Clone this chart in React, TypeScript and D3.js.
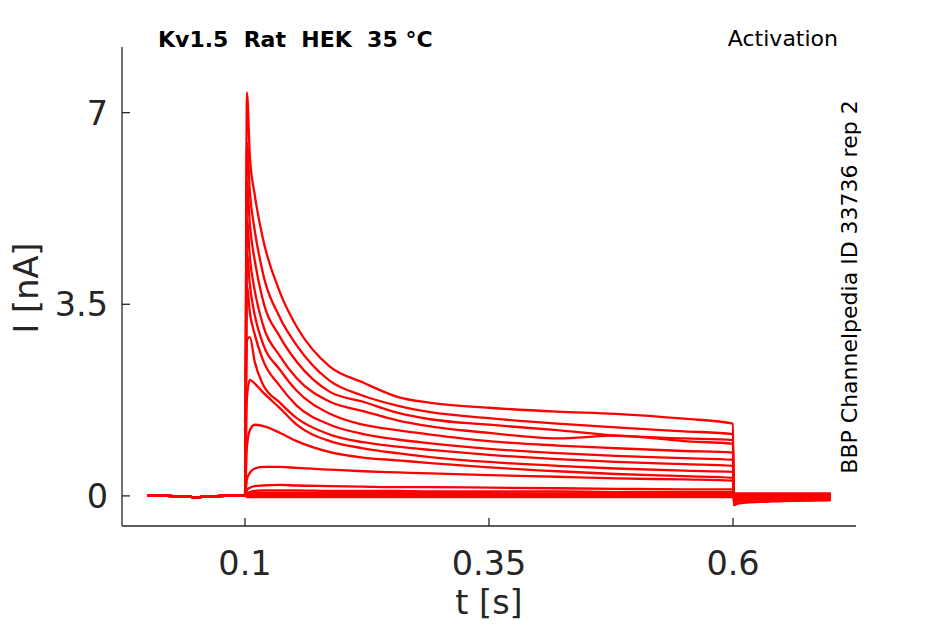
import { useEffect, useRef } from 'react';
import * as d3 from 'd3';

// sample times (s)
const preTimes = [0, 0.02, 0.04, 0.05, 0.06, 0.08, 0.095];
const preValues = [0.01, 0.0, -0.01, -0.03, -0.01, 0.0, 0.0];
const stepTimes = [0.1, 0.102, 0.105, 0.11, 0.118, 0.136, 0.153, 0.187, 0.221, 0.256, 0.29, 0.35, 0.42, 0.48, 0.55, 0.6];
const tailTimes = [0.6005, 0.605, 0.64, 0.7];

// current during the step (nA), one row per sweep
const stepValues: number[][] = [
  [0, 7.37, 6.2, 5.5, 4.73, 3.71, 3.09, 2.36, 2.07, 1.81, 1.7, 1.61, 1.54, 1.5, 1.41, 1.32],
  [0, 6.45, 5.55, 4.85, 4.1, 3.25, 2.75, 2.1, 1.83, 1.65, 1.53, 1.42, 1.32, 1.25, 1.18, 1.13],
  [0, 5.75, 4.95, 4.3, 3.6, 2.9, 2.45, 1.9, 1.72, 1.52, 1.4, 1.3, 1.2, 1.1, 1.05, 1.02],
  [0, 5.05, 4.35, 3.75, 3.15, 2.55, 2.15, 1.72, 1.55, 1.38, 1.27, 1.15, 1.05, 1.1, 1.0, 0.95],
  [0, 4.45, 3.85, 3.3, 2.8, 2.3, 1.92, 1.5, 1.3, 1.2, 1.12, 1.0, 0.92, 0.87, 0.82, 0.79],
  [0, 3.85, 3.35, 2.95, 2.5, 2.0, 1.65, 1.3, 1.13, 1.03, 0.96, 0.86, 0.78, 0.73, 0.69, 0.66],
  [0, 2.85, 2.9, 2.45, 2.05, 1.7, 1.42, 1.12, 0.98, 0.9, 0.84, 0.75, 0.67, 0.62, 0.58, 0.55],
  [0, 1.8, 2.12, 2.05, 1.9, 1.6, 1.3, 1.0, 0.87, 0.78, 0.71, 0.62, 0.55, 0.5, 0.46, 0.44],
  [0, 0.9, 1.2, 1.3, 1.28, 1.15, 1.0, 0.8, 0.7, 0.65, 0.6, 0.52, 0.45, 0.4, 0.36, 0.33],
  [0, 0.3, 0.42, 0.5, 0.53, 0.53, 0.51, 0.48, 0.45, 0.43, 0.41, 0.38, 0.35, 0.32, 0.3, 0.28],
  [0, 0.1, 0.15, 0.18, 0.19, 0.2, 0.19, 0.18, 0.17, 0.16, 0.16, 0.15, 0.14, 0.13, 0.12, 0.12],
  [0, 0.05, 0.07, 0.09, 0.1, 0.1, 0.1, 0.09, 0.09, 0.09, 0.08, 0.08, 0.08, 0.07, 0.07, 0.07],
  [0, 0.03, 0.05, 0.06, 0.06, 0.06, 0.06, 0.05, 0.05, 0.05, 0.05, 0.05, 0.04, 0.04, 0.04, 0.04],
  [0, 0.02, 0.03, 0.03, 0.03, 0.03, 0.03, 0.03, 0.03, 0.03, 0.03, 0.03, 0.03, 0.02, 0.02, 0.02],
  [0, 0.01, 0.01, 0.01, 0.01, 0.01, 0.01, 0.01, 0.01, 0.01, 0.01, 0.01, 0.01, 0.01, 0.01, 0.01],
  [0, 0.0, 0.0, 0.0, -0.01, 0.0, -0.01, 0.0, -0.01, 0.0, -0.01, 0.0, -0.01, 0.0, -0.01, 0.0],
  [0, -0.02, -0.02, -0.02, -0.02, -0.02, -0.02, -0.02, -0.02, -0.02, -0.02, -0.02, -0.02, -0.02, -0.02, -0.02],
];

// current after the step (nA)
const tailValues: number[][] = [
  [-0.17, -0.14, -0.1, -0.08],
  [-0.14, -0.12, -0.09, -0.07],
  [-0.1, -0.08, -0.06, -0.05],
  [-0.07, -0.06, -0.05, -0.04],
  [-0.05, -0.04, -0.03, -0.02],
  [-0.03, -0.02, -0.02, -0.01],
  [-0.02, -0.01, -0.01, 0.0],
  [-0.01, 0.0, 0.0, 0.0],
  [0.0, 0.0, 0.01, 0.01],
  [0.01, 0.01, 0.01, 0.01],
  [0.02, 0.02, 0.02, 0.02],
  [0.02, 0.02, 0.02, 0.02],
  [0.03, 0.03, 0.03, 0.03],
  [0.03, 0.03, 0.03, 0.03],
  [0.04, 0.04, 0.04, 0.04],
  [0.04, 0.04, 0.04, 0.04],
  [0.0, 0.0, 0.0, 0.0],
];

const xTicks = [0.1, 0.35, 0.6];
const yTicks = [0, 3.5, 7];

export default function App() {
  const ref = useRef<SVGSVGElement>(null);
  const width = 945;
  const height = 624;

  useEffect(() => {
    if (!ref.current) return;
    const svg = d3.select(ref.current);
    svg.selectAll('*').remove();

    const left = 122, right = 856, top = 47, bottom = 526;
    const x = d3.scaleLinear().domain([-0.026, 0.726]).range([left, right]);
    const y = d3.scaleLinear().domain([-0.55, 8.2]).range([bottom, top]);
    const ink = '#262626';
    const font = 'DejaVu Sans, sans-serif';

    const line = d3
      .line<[number, number]>()
      .x((d) => x(d[0]))
      .y((d) => y(d[1]))
      .curve(d3.curveMonotoneX);

    const sweeps = stepValues.map((vals, i) => {
      const pts: [number, number][] = [];
      preTimes.forEach((t, j) => pts.push([t, preValues[j]]));
      stepTimes.forEach((t, j) => pts.push([t, vals[j]]));
      tailTimes.forEach((t, j) => pts.push([t, tailValues[i][j]]));
      return pts;
    });

    svg
      .append('g')
      .selectAll('path')
      .data(sweeps)
      .enter()
      .append('path')
      .attr('d', (d) => line(d))
      .attr('fill', 'none')
      .attr('stroke', '#ff0000')
      .attr('stroke-width', 2.3)
      .attr('stroke-linejoin', 'round');

    // axes
    const axis = svg.append('g').attr('stroke', ink).attr('stroke-width', 1.3).attr('fill', 'none');
    axis.append('line').attr('x1', left).attr('x2', left).attr('y1', top).attr('y2', bottom);
    axis.append('line').attr('x1', left).attr('x2', right).attr('y1', bottom).attr('y2', bottom);
    yTicks.forEach((v) => {
      axis.append('line').attr('x1', left).attr('x2', left + 8).attr('y1', y(v)).attr('y2', y(v));
    });
    xTicks.forEach((v) => {
      axis.append('line').attr('x1', x(v)).attr('x2', x(v)).attr('y1', bottom).attr('y2', bottom - 8);
    });

    const fmt = (v: number) => String(v);
    svg
      .append('g')
      .selectAll('text')
      .data(yTicks)
      .enter()
      .append('text')
      .attr('x', 108)
      .attr('y', (d) => y(d) + 12)
      .attr('text-anchor', 'end')
      .attr('font-family', font)
      .attr('font-size', 33.5)
      .attr('fill', ink)
      .text(fmt);

    svg
      .append('g')
      .selectAll('text')
      .data(xTicks)
      .enter()
      .append('text')
      .attr('x', (d) => x(d))
      .attr('y', 575)
      .attr('text-anchor', 'middle')
      .attr('font-family', font)
      .attr('font-size', 33.5)
      .attr('fill', ink)
      .text(fmt);

    svg
      .append('text')
      .attr('x', x(0.35))
      .attr('y', 614)
      .attr('text-anchor', 'middle')
      .attr('font-family', font)
      .attr('font-size', 33.5)
      .attr('fill', ink)
      .text('t [s]');

    svg
      .append('text')
      .attr('transform', 'translate(38,288) rotate(-90)')
      .attr('text-anchor', 'middle')
      .attr('font-family', font)
      .attr('font-size', 33.5)
      .attr('fill', ink)
      .text('I [nA]');

    svg
      .append('text')
      .attr('x', 158)
      .attr('y', 47)
      .attr('font-family', font)
      .attr('font-size', 22)
      .attr('font-weight', 'bold')
      .attr('fill', '#000')
      .style('white-space', 'pre')
      .text('Kv1.5  Rat  HEK  35 °C');

    svg
      .append('text')
      .attr('x', 838)
      .attr('y', 46)
      .attr('text-anchor', 'end')
      .attr('font-family', font)
      .attr('font-size', 22)
      .attr('fill', '#000')
      .text('Activation');

    svg
      .append('text')
      .attr('transform', 'translate(857,287) rotate(-90)')
      .attr('text-anchor', 'middle')
      .attr('font-family', font)
      .attr('font-size', 22)
      .attr('fill', '#000')
      .text('BBP Channelpedia ID 33736 rep 2');
  }, []);

  return (
    <svg
      ref={ref}
      width={width}
      height={height}
      style={{ position: 'absolute', left: 0, top: 0, background: '#fff' }}
    />
  );
}
